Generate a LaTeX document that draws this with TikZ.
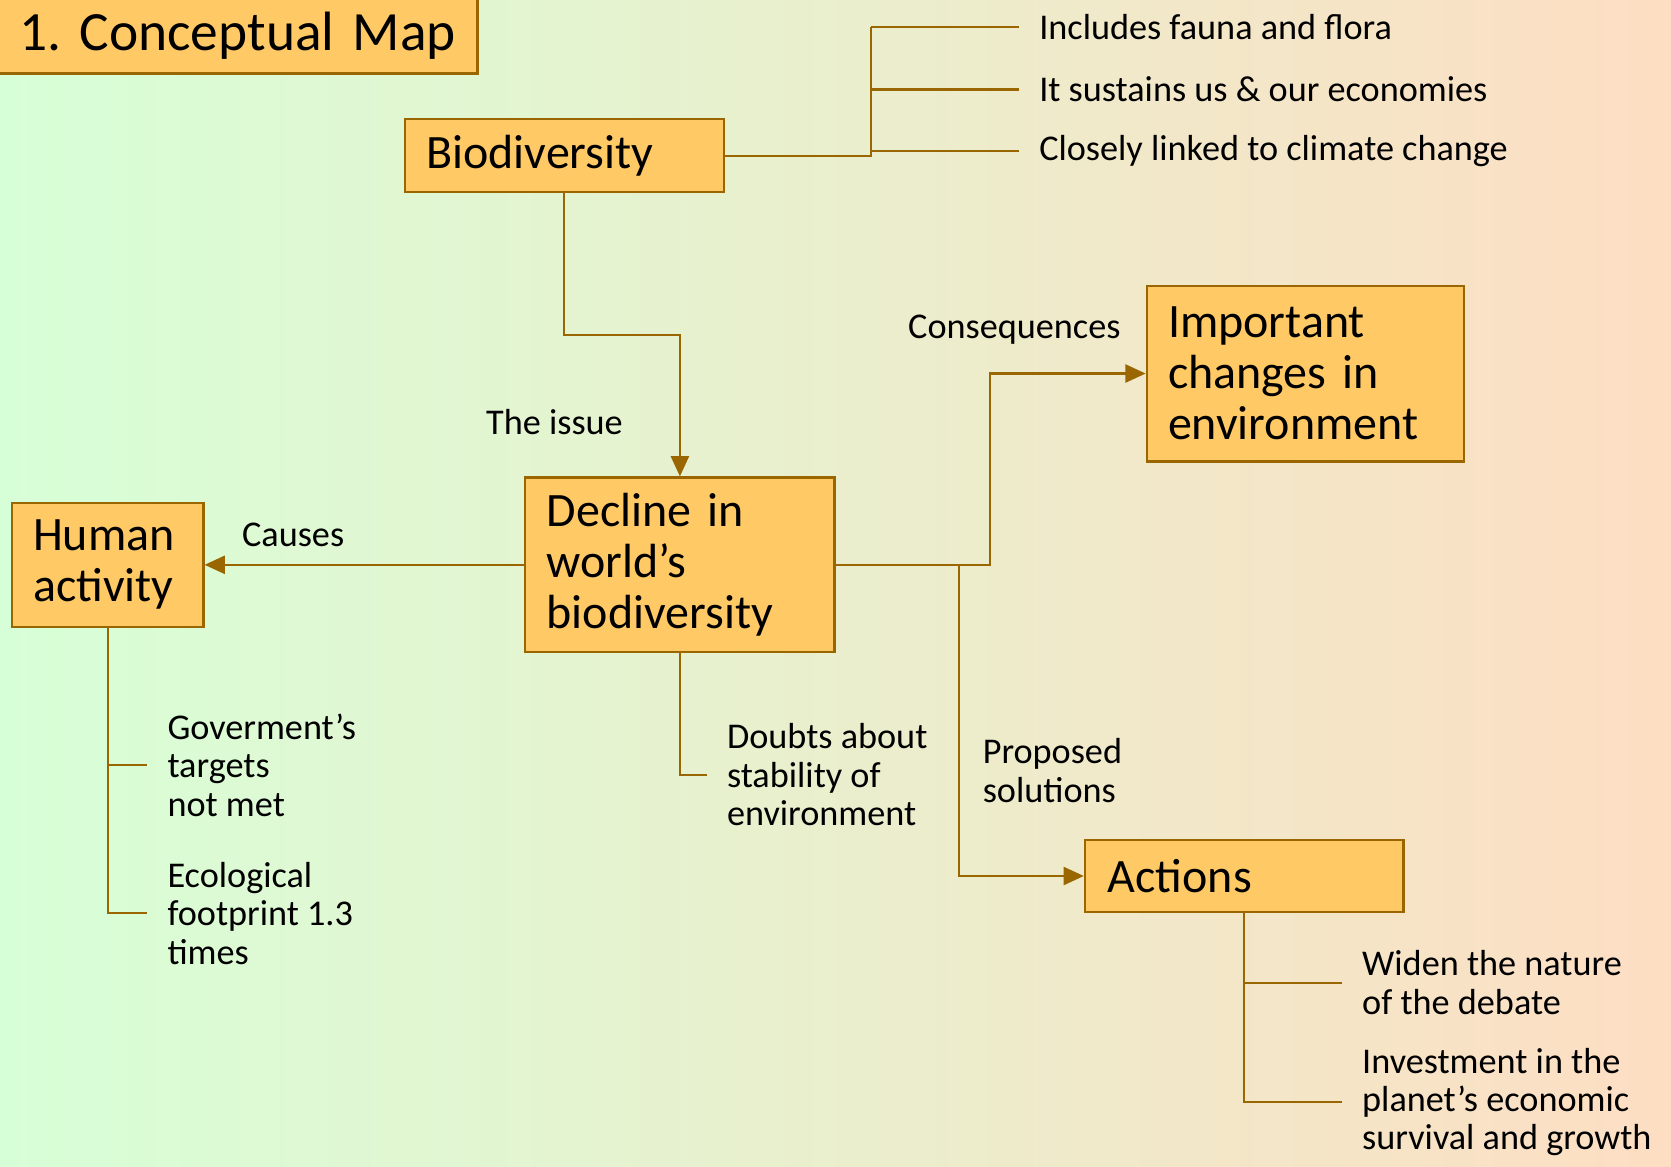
\documentclass[tikz,border=0pt]{standalone}
\usepackage{fontspec}
\setmainfont{Carlito}
\usetikzlibrary{arrows.meta}
\definecolor{boxfill}{RGB}{255,201,102}
\definecolor{brd}{RGB}{153,102,0}
\definecolor{bgL}{RGB}{215,255,215}
\definecolor{bgM}{RGB}{236,240,205}
\definecolor{bgR}{RGB}{253,222,195}
\begin{document}
\frenchspacing
\begin{tikzpicture}[x=1pt,y=-1pt,
  box/.style={draw=brd,fill=boxfill,line width=2pt,align=left,anchor=north west,
    inner xsep=20pt,inner ysep=0pt,font=\fontsize{45}{48}\selectfont},
  lbl/.style={anchor=west,inner sep=0pt,align=left,font=\fontsize{34}{36}\selectfont},
  ln/.style={draw=brd,line width=2pt},
  arr/.style={ln,-{Triangle[length=19pt,width=17pt]}},
  twig/.style={ln,shorten >=19pt}]
\useasboundingbox (0,0) rectangle (1568,1095);
\shade[left color=bgL,middle color=bgM,right color=bgR] (0,0) rectangle (1568,1095);
% boxes
\node[box,text width=410pt,minimum height=71pt,font=\fontsize{52}{56}\selectfont] (title) at (-3,-3) {1. Conceptual Map};
\node[box,text width=259pt,minimum height=68pt] (bio) at (379,111) {Biodiversity};
\node[box,text width=250pt,minimum height=164pt] (decl) at (492,447) {Decline in\\world’s\\biodiversity};
\node[box,text width=140pt,minimum height=116pt] (hum) at (10,471) {Human\\activity};
\node[box,text width=258pt,minimum height=165pt] (imp) at (1075,267) {Important\\changes in\\environment};
\node[box,text width=256pt,inner xsep=21.5pt,minimum height=68pt] (act) at (1017,787) {Actions};
% labels
\node[lbl] (f1) at (975,25) {Includes fauna and flora};
\node[lbl] (f2) at (975,84) {It sustains us \& our economies};
\node[lbl] (f3) at (975,142) {Closely linked to climate change};
\node[lbl] (issue) at (456,396) {The issue};
\node[lbl] (causes) at (227,502) {Causes};
\node[lbl] (cons) at (852,309) {Consequences};
\node[lbl] (prop) at (922,723) {Proposed\\solutions};
\node[lbl] (doubt) at (682,727) {Doubts about\\stability of\\environment};
\node[lbl] (gov) at (157,718) {Goverment’s\\targets\\not met};
\node[lbl] (eco) at (157,857) {Ecological\\footprint 1.3\\times};
\node[lbl] (widen) at (1278,922) {Widen the nature\\of the debate};
\node[lbl] (inv) at (1278,1034) {Investment in the\\planet’s economic\\survival and growth};
% junctions
\coordinate (jt) at (817,25);
\coordinate (jm) at (817,84);
\coordinate (jl) at (817,142);
\coordinate (cx) at (929,0);
\coordinate (px) at (900,0);
% connectors
\draw[ln] (bio.east) -| (jt);
\draw[twig] (jt) -- (f1.west);
\draw[twig] (jm) -- (f2.west);
\draw[twig] (jl) -- (f3.west);
\draw[arr] (bio.south) -- ++(0,133) -| (decl.north);
\draw[arr] (decl.west) -- (hum.east);
\draw[arr] (decl.east) -- (decl.east -| cx) |- (imp.west);
\draw[arr] (decl.east) -- (decl.east -| px) |- (act.west);
\draw[twig] (decl.south) |- (doubt.west);
\draw[twig] (hum.south) |- (gov.west);
\draw[twig] (hum.south) |- (eco.west);
\draw[twig] (act.south) |- (widen.west);
\draw[twig] (act.south) |- (inv.west);
\end{tikzpicture}
\end{document}
